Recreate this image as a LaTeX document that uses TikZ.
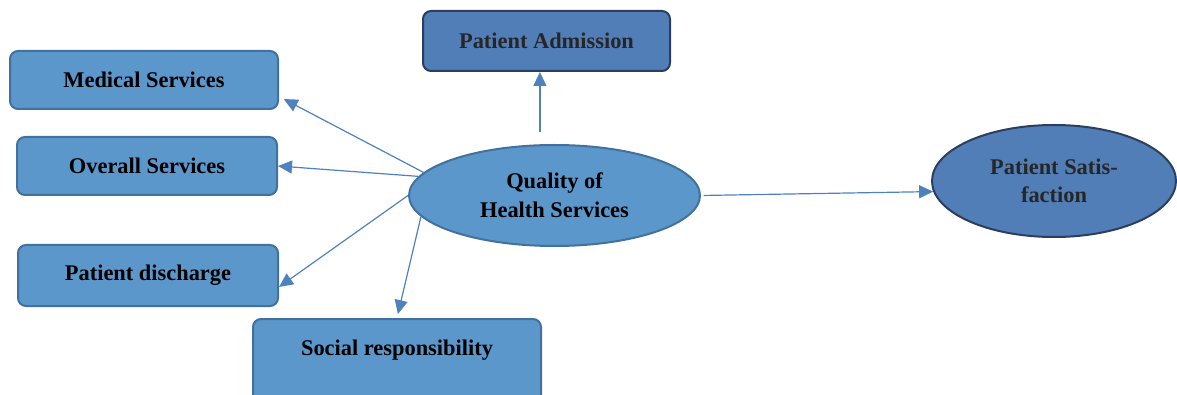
\documentclass[tikz,border=0pt]{standalone}
\usepackage{fontspec}
\setmainfont{Liberation Serif}
\usetikzlibrary{arrows.meta,shapes.geometric}

\tikzset{every picture/.style={line width=0.75pt}}
\tikzset{
  boxfont/.style={font=\bfseries\fontsize{16.8}{21.5}\selectfont, align=center, inner sep=0.75pt},
  lightbox/.style={boxfont, draw={rgb, 255:red, 65; green, 113; blue, 156}, fill={rgb, 255:red, 92; green, 151; blue, 203}, line width=1.5pt, rounded corners=6pt},
  darkbox/.style={boxfont, draw={rgb, 255:red, 44; green, 62; blue, 95}, fill={rgb, 255:red, 81; green, 126; blue, 182}, text={rgb, 255:red, 38; green, 38; blue, 38}, line width=1.5pt, rounded corners=6pt},
  lightoval/.style={boxfont, ellipse, draw={rgb, 255:red, 65; green, 113; blue, 156}, fill={rgb, 255:red, 92; green, 151; blue, 203}, line width=1.5pt},
  darkoval/.style={boxfont, ellipse, draw={rgb, 255:red, 44; green, 62; blue, 95}, fill={rgb, 255:red, 81; green, 126; blue, 182}, text={rgb, 255:red, 38; green, 38; blue, 38}, line width=1.5pt},
  arr/.style={draw={rgb, 255:red, 79; green, 129; blue, 189}, line width=0.9pt, -{Triangle[length=10.5pt, width=9.75pt]}}
}

\begin{document}
\begin{tikzpicture}[x=0.75pt,y=0.75pt,yscale=-1,xscale=1]
\useasboundingbox (0,0) rectangle (1177,395);

%Rounded Rect [id:dp1]
\draw (144,80) node [lightbox, minimum width=201pt, minimum height=43.5pt] (med) {Medical Services};
%Rounded Rect [id:dp2]
\draw (147,166) node [lightbox, minimum width=195pt, minimum height=43.5pt] (ovr) {Overall Services};
%Rounded Rect [id:dp3]
\draw (148,275.5) node [lightbox, minimum width=195pt, minimum height=45.75pt] (dis) {Patient discharge};
%Rounded Rect [id:dp4]
\draw (397,318) node [lightbox, anchor=north, minimum width=216pt, inner ysep=0pt, text height=27pt, text depth=36pt] (soc) {Social responsibility};
%Rounded Rect [id:dp5]
\draw (546.5,41) node [darkbox, minimum width=185.25pt, minimum height=45pt] (adm) {Patient Admission};
%Shape: Ellipse [id:dp6]
\draw (554.5,195.5) node [lightoval, minimum width=218.25pt, minimum height=75.75pt] (qhs) {Quality of\\Health Services};
%Shape: Ellipse [id:dp7]
\draw (1054,181) node [darkoval, minimum width=183pt, minimum height=84pt] (sat) {Patient Satis-\\faction};

%Straight Lines [id:da1]
\draw [arr, shorten >=4pt] (qhs.170) -- (med.-7);
%Straight Lines [id:da2]
\draw [arr] (qhs.172) -- (ovr.east);
%Straight Lines [id:da3]
\draw [arr] (qhs.180) -- (dis.-5);
%Straight Lines [id:da4]
\draw [arr, shorten >=3pt] (qhs.189) -- (soc.north);
%Straight Lines [id:da5]
\draw [arr, shorten <=9pt] (adm.-102 |- qhs.north) -- (adm.-102);
%Straight Lines [id:da6]
\draw [arr, shorten <=2pt] (qhs.east) -- (sat.185);

\end{tikzpicture}
\end{document}
